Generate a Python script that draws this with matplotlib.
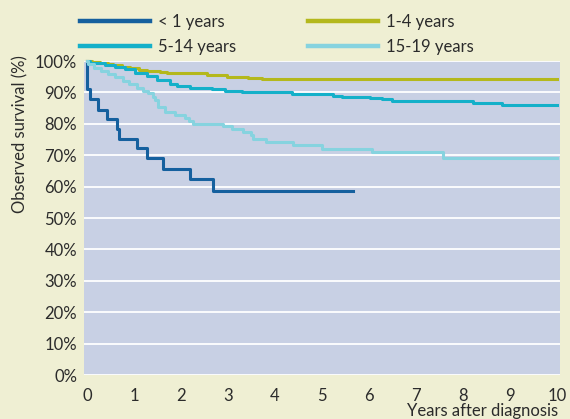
import numpy as np
import matplotlib.pyplot as plt

# Kaplan-Meier style step data (years after diagnosis, observed survival %)
t_lt1 = [0, 0.0, 0.01, 0.06, 0.24, 0.43, 0.63, 0.68, 1.06, 1.27, 1.62, 2.19, 2.69, 5.67]
s_lt1 = [100, 94.0, 91.0, 87.9, 84.5, 81.6, 78.3, 75.1, 72.2, 69.0, 65.7, 62.5, 58.6, 58.6]

t_1_4 = [0, 0.1, 0.28, 0.45, 0.56, 0.75, 0.91, 1.1, 1.27, 1.55, 1.70, 2.55, 2.97, 3.43, 3.72, 10]
s_1_4 = [100, 99.7, 99.4, 99.0, 98.7, 98.2, 97.8, 97.2, 96.7, 96.4, 96.2, 95.7, 95.0, 94.5, 94.3, 94.3]

t_5_14 = [0, 0.06, 0.38, 0.6, 0.81, 1.02, 1.27, 1.48, 1.77, 1.91, 2.19, 2.65, 2.94, 3.29,
          4.36, 4.82, 5.24, 5.42, 6.02, 6.27, 6.5, 8.22, 8.82, 10]
s_5_14 = [100, 99.4, 98.7, 98.0, 97.3, 96.2, 95.1, 94.1, 92.7, 91.9, 91.5, 91.1, 90.3, 90.0,
          89.6, 89.4, 88.9, 88.5, 88.3, 87.8, 87.3, 86.7, 86.1, 86.1]

t_15_19 = [0, 0.03, 0.15, 0.3, 0.45, 0.6, 0.77, 0.9, 1.06, 1.2, 1.3, 1.4, 1.45, 1.5, 1.65,
           1.87, 2.09, 2.18, 2.26, 2.9, 3.08, 3.31, 3.48, 3.54, 3.81, 4.39, 5.01, 6.06, 7.58, 10]
s_15_19 = [100, 98.9, 97.8, 96.7, 95.9, 94.8, 93.5, 92.6, 91.5, 90.6, 89.9, 88.5, 87.5, 85.3, 83.6,
           82.7, 81.8, 81.0, 80.0, 79.2, 78.2, 77.4, 76.3, 75.3, 74.2, 73.2, 72.1, 70.9, 69.1, 69.1]

labels = ["< 1 years", "1-4 years", "5-14 years", "15-19 years"]
colors = ["#15609e", "#b4b81c", "#14b0c9", "#86d3df"]

bg = "#efefd3"
plt.rcParams["font.family"] = ["Lato", "DejaVu Sans"]

fig = plt.figure(figsize=(5.7, 4.19), dpi=100, facecolor=bg)
ax = fig.add_axes([84 / 570, 1 - 375 / 419, 476 / 570, 314 / 419])
ax.set_facecolor("#c8d0e4")

series = [(t_lt1, s_lt1), (t_1_4, s_1_4), (t_5_14, s_5_14), (t_15_19, s_15_19)]
handles = []
for (t, s), c, lab in zip(series, colors, labels):
    h, = ax.step(t, s, where="post", color=c, lw=2.2, label=lab, clip_on=False, zorder=3)
    handles.append(h)

ax.set_xlim(-0.064, 10.064)
ax.set_ylim(0, 100)
ax.set_xticks(range(0, 11))
ax.set_yticks(range(0, 101, 10))
ax.set_yticklabels([f"{v}%" for v in range(0, 101, 10)])
ax.tick_params(length=0, labelsize=12, colors="#2b2b2b")
ax.tick_params(axis="x", pad=9)
ax.tick_params(axis="y", pad=5)
for sp in ax.spines.values():
    sp.set_visible(False)
ax.yaxis.grid(True, color="white", lw=1.3)
ax.set_axisbelow(True)

fig.text(558 / 570, 1 - 411 / 419, "Years after diagnosis", ha="right", va="center",
         fontsize=12, color="#2b2b2b")
fig.text(20 / 570, 1 - 55 / 419, "Observed survival (%)", rotation=90, ha="center", va="top",
         fontsize=12, color="#2b2b2b")

order = [0, 2, 1, 3]
leg = fig.legend([handles[i] for i in order], [labels[i] for i in order], ncol=2,
                 loc="upper left", bbox_to_anchor=(80 / 570, 1 - 14 / 419), frameon=False,
                 fontsize=12, handlelength=4.2, handletextpad=0.5, columnspacing=4.3,
                 labelspacing=0.55, borderpad=0, borderaxespad=0, labelcolor="#2b2b2b")
for lh in leg.get_lines():
    lh.set_linewidth(3.2)

fig.savefig("out.png", dpi=100, facecolor=bg)
